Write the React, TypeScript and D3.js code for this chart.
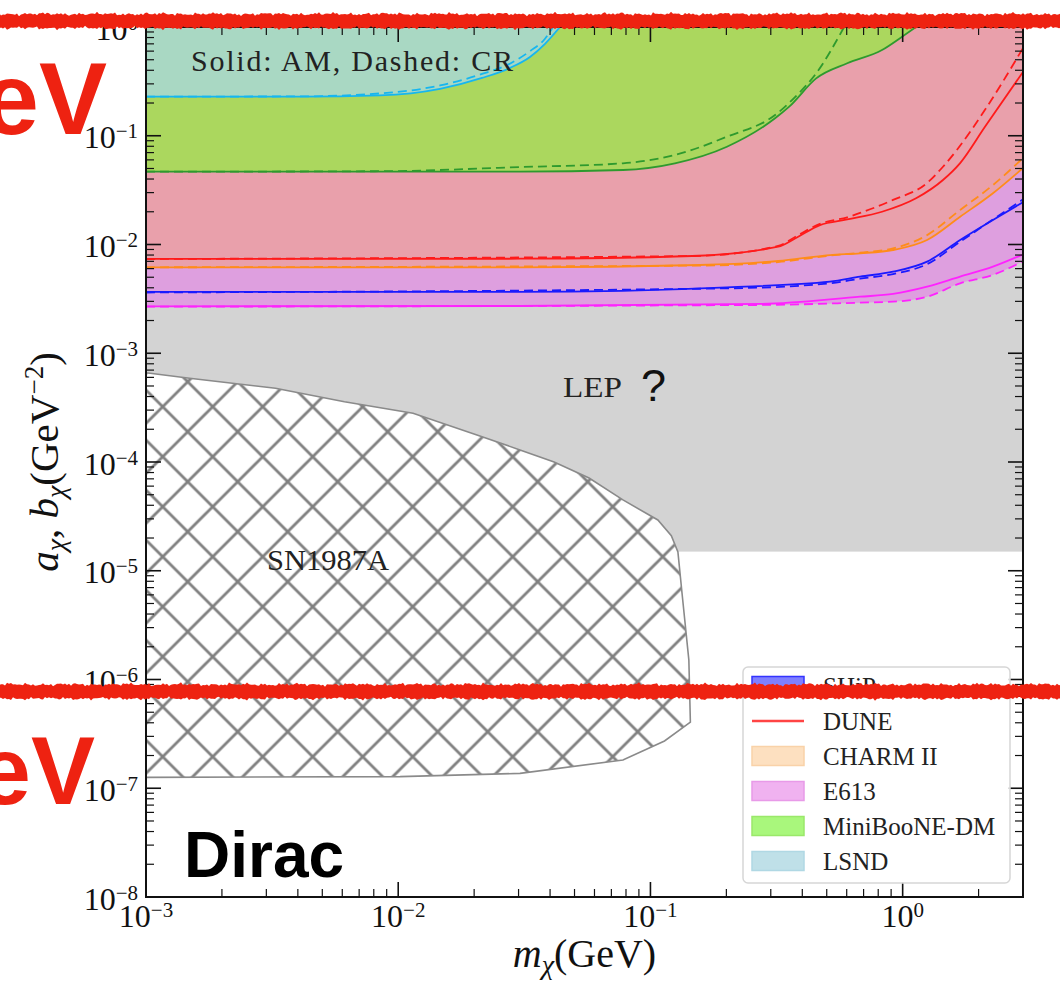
import React from 'react';
import * as d3 from 'd3';

type P = [number, number];

const xDomain: [number, number] = [1e-3, 3];
const yDomain: [number, number] = [1e-8, 1];
const xTickExps = [-3, -2, -1, 0];
const yTickExps = [0, -1, -2, -3, -4, -5, -6, -7, -8];

const lepBound = 1.5e-5;

const snBoundary: P[] = [
  [1e-3, 6.62e-4], [1.489e-3, 5.88e-4], [3.26e-3, 4.76e-4], [6.12e-3, 3.58e-4],
  [0.01145, 2.81e-4], [0.0215, 1.71e-4], [0.0304, 1.29e-4], [0.0415, 1.0e-4],
  [0.0571, 7.13e-5], [0.0778, 4.48e-5], [0.107, 2.93e-5], [0.121, 2.1e-5],
  [0.1285, 1.49e-5], [0.1334, 6.24e-6], [0.142, 1.51e-6], [0.144, 4.06e-7],
  [0.1137, 2.72e-7], [0.0778, 1.82e-7], [0.0304, 1.37e-7], [0.01017, 1.28e-7], [1e-3, 1.26e-7],
];

const e613Solid: P[] = [
  [1e-3, 2.7e-3], [0.0304, 2.72e-3], [0.275, 2.84e-3], [0.678, 3.31e-3], [0.916, 3.51e-3],
  [1.25, 4.09e-3], [1.69, 5.06e-3], [2.28, 6.25e-3], [3, 8.1e-3],
];
const e613Dashed: P[] = [
  [1e-3, 2.68e-3], [0.275, 2.78e-3], [0.678, 2.92e-3], [0.916, 2.98e-3], [1.25, 3.31e-3],
  [1.69, 4.4e-3], [2.28, 5.25e-3], [3, 7.0e-3],
];
const shipSolid: P[] = [
  [1e-3, 3.66e-3], [0.0304, 3.66e-3], [0.201, 4.04e-3], [0.515, 4.55e-3], [0.678, 5.06e-3],
  [0.916, 5.62e-3], [1.25, 6.95e-3], [1.69, 0.011], [2.28, 0.0168], [3, 0.0245],
];
const shipDashed: P[] = [
  [1e-3, 3.62e-3], [0.201, 3.95e-3], [0.515, 4.4e-3], [0.678, 4.85e-3], [0.916, 5.35e-3],
  [1.25, 6.6e-3], [1.69, 0.0106], [2.28, 0.017], [3, 0.026],
];
const charmSolid: P[] = [
  [1e-3, 6.17e-3], [0.0304, 6.17e-3], [0.157, 6.48e-3], [0.321, 7.05e-3], [0.515, 8.0e-3],
  [0.678, 8.3e-3], [0.916, 8.9e-3], [1.25, 0.011], [1.69, 0.018], [2.28, 0.0296], [3, 0.0505],
];
const charmDashed: P[] = [
  [1e-3, 6.17e-3], [0.157, 6.4e-3], [0.321, 6.9e-3], [0.515, 7.9e-3], [0.678, 8.4e-3],
  [0.916, 9.2e-3], [1.25, 0.0122], [1.69, 0.0208], [2.28, 0.0352], [3, 0.0624],
];
const duneSolid: P[] = [
  [1e-3, 7.36e-3], [0.0304, 7.4e-3], [0.146, 7.84e-3], [0.321, 9.55e-3], [0.376, 0.0114],
  [0.47, 0.0151], [0.603, 0.017], [0.828, 0.02], [1.13, 0.0266], [1.445, 0.0392],
  [1.69, 0.0561], [2.12, 0.121], [3, 0.386],
];
const duneDashed: P[] = [
  [1e-3, 7.36e-3], [0.146, 7.84e-3], [0.321, 9.7e-3], [0.376, 0.0118], [0.47, 0.0155],
  [0.603, 0.0178], [0.678, 0.0195], [0.916, 0.0257], [1.25, 0.0368], [1.445, 0.0519],
  [1.64, 0.074], [2.12, 0.173], [3, 0.641],
];
const mbSolid: P[] = [
  [1e-3, 0.0467], [0.0304, 0.0467], [0.0778, 0.0484], [0.125, 0.0558], [0.201, 0.0793],
  [0.312, 0.1446], [0.355, 0.185], [0.454, 0.337], [0.603, 0.464], [0.828, 0.614],
  [0.995, 0.814], [1.13, 1.0],
];
const mbDashed: P[] = [
  [1e-3, 0.0467], [8.5e-3, 0.0472], [0.0304, 0.0515], [0.0778, 0.0558], [0.125, 0.0665],
  [0.201, 0.098], [0.312, 0.155], [0.376, 0.229], [0.454, 0.375], [0.586, 1.0],
];
const lsndSolid: P[] = [
  [1e-3, 0.229], [4.08e-3, 0.229], [8.47e-3, 0.235], [0.01465, 0.27], [0.0215, 0.34],
  [0.0277, 0.42], [0.0333, 0.53], [0.0382, 0.7], [0.0438, 1.0],
];
const lsndDashed: P[] = [
  [1e-3, 0.229], [4.08e-3, 0.23], [8.47e-3, 0.245], [0.01465, 0.29], [0.0215, 0.37],
  [0.0277, 0.46], [0.0333, 0.6], [0.0382, 0.78], [0.0411, 1.0],
];

const legendItems = [
  { label: 'SHiP', kind: 'patch', fill: '#7f7fff', stroke: '#3333ff' },
  { label: 'DUNE', kind: 'line', fill: 'none', stroke: '#ff4444' },
  { label: 'CHARM II', kind: 'patch', fill: '#fde0c0', stroke: '#f9d2a8' },
  { label: 'E613', kind: 'patch', fill: '#f0b2f0', stroke: '#e89ae8' },
  { label: 'MiniBooNE-DM', kind: 'patch', fill: '#a9f77c', stroke: '#9ae86a' },
  { label: 'LSND', kind: 'patch', fill: '#bfe0e8', stroke: '#b0d8e4' },
];

const SERIF = '"Liberation Serif", "DejaVu Serif", serif';
const SANS = '"Liberation Sans", Arial, sans-serif';

function jag(xv: number, seed: number) {
  return 0.7 * Math.sin(xv * 1.73 + seed) + 0.5 * Math.sin(xv * 3.91 + 2 + seed) +
    0.6 * Math.sin(xv * 0.37 + 1 + seed * 1.3) + 0.35 * Math.sin(xv * 7.3 + seed * 2) +
    0.4 * Math.sin(xv * 0.11 + seed * 0.7);
}

function bandPath(y0: number, y1: number, seed: number) {
  const pts: string[] = [];
  for (let xv = -5; xv <= 1065; xv += 2) pts.push(`${xv},${(y0 + jag(xv, seed)).toFixed(2)}`);
  for (let xv = 1065; xv >= -5; xv -= 2) pts.push(`${xv},${(y1 + jag(xv, seed + 3)).toFixed(2)}`);
  return 'M' + pts.join('L') + 'Z';
}

const sup = (e: number) => (e < 0 ? `\u2212${-e}` : `${e}`);

export default function App() {
  const W = 1060, H = 984;
  const x = d3.scaleLog().domain(xDomain).range([146, 1023]);
  const y = d3.scaleLog().domain(yDomain).range([897, 27]);
  const x0 = x(xDomain[0]), x1 = x(xDomain[1]);
  const yB = y(yDomain[0]), yT = y(yDomain[1]);

  const line = d3.line<P>().x(d => x(d[0])).y(d => y(d[1])).curve(d3.curveMonotoneX);
  const fillAbove = (pts: P[]) => {
    const f = pts[0], l = pts[pts.length - 1];
    return `${line(pts)}L${x(l[0])},${yT}L${x(f[0])},${yT}Z`;
  };
  const snPath = d3.line<P>().x(d => x(d[0])).y(d => y(d[1]))(snBoundary) + 'Z';

  const xMinor: number[] = [];
  for (let k = -3; k <= 0; k++) for (let m = 2; m <= 9; m++) { const v = m * 10 ** k; if (v < xDomain[1]) xMinor.push(v); }
  const yMinor: number[] = [];
  for (let k = -8; k <= -1; k++) for (let m = 2; m <= 9; m++) yMinor.push(m * 10 ** k);

  const curves = [
    { s: e613Solid, d: e613Dashed, c: '#ff22ff' },
    { s: shipSolid, d: shipDashed, c: '#1a1aff' },
    { s: charmSolid, d: charmDashed, c: '#ff8c1a' },
    { s: duneSolid, d: duneDashed, c: '#ff1a1a' },
    { s: mbSolid, d: mbDashed, c: '#2e9a2e' },
    { s: lsndSolid, d: lsndDashed, c: '#16b6f0' },
  ];

  const majT = 15, minT = 8;
  const legX = 743, legY = 667, legW = 267, legH = 216;
  const legRow0 = 686, legStep = 35;

  return (
    <svg width={W} height={H} style={{ position: 'absolute', left: 0, top: 0, background: '#fff' }}>
      <defs>
        <clipPath id="plotClip">
          <rect x={x0} y={yT} width={x1 - x0} height={yB - yT} />
        </clipPath>
        <pattern id="hatch" patternUnits="userSpaceOnUse" width={50} height={50} x={37.7} y={31.7}>
          <path d="M-55,-5L5,55M-5,-5L55,55M45,-5L105,55M55,-5L-5,55M5,-5L-55,55M105,-5L45,55"
            stroke="#808080" strokeWidth={2.8} fill="none" />
        </pattern>
      </defs>
      <rect x={0} y={0} width={W} height={H} fill="#fff" />

      <g clipPath="url(#plotClip)">
        <rect x={x0} y={yT} width={x1 - x0} height={y(lepBound) - yT} fill="#d3d3d3" />
        <path d={snPath} fill="#fff" />
        <path d={snPath} fill="url(#hatch)" stroke="#8a8a8a" strokeWidth={1.6} />
        <path d={fillAbove(e613Dashed)} fill="#de9fdf" />
        <path d={fillAbove(charmSolid)} fill="#e9a0ab" />
        <path d={fillAbove(mbSolid)} fill="#abd75e" />
        <path d={fillAbove(lsndSolid)} fill="#a9d8c3" />
        {curves.map((c, i) => (
          <g key={i}>
            <path d={line(c.d) || ''} fill="none" stroke={c.c} strokeWidth={1.8} strokeDasharray="9,5" />
            <path d={line(c.s) || ''} fill="none" stroke={c.c} strokeWidth={1.8} />
          </g>
        ))}
      </g>

      <text x={191} y={71} fontFamily={SERIF} fontSize={30} textLength={322} lengthAdjust="spacing" fill="#222">Solid: AM, Dashed: CR</text>
      <text x={563} y={397} fontFamily={SERIF} fontSize={29} textLength={59} lengthAdjust="spacingAndGlyphs" fill="#222">LEP</text>
      <text x={641} y={401} fontFamily={SANS} fontSize={45} fill="#111">?</text>
      <text x={267} y={570} fontFamily={SERIF} fontSize={29} textLength={122} lengthAdjust="spacingAndGlyphs" fill="#222">SN1987A</text>

      {/* frame */}
      <rect x={x0} y={yT} width={x1 - x0} height={yB - yT} fill="none" stroke="#111" strokeWidth={2} />
      {xTickExps.map(e => (
        <g key={'xm' + e}>
          <line x1={x(10 ** e)} x2={x(10 ** e)} y1={yB} y2={yB - majT} stroke="#111" strokeWidth={1.6} />
          <line x1={x(10 ** e)} x2={x(10 ** e)} y1={yT} y2={yT + majT} stroke="#111" strokeWidth={1.6} />
        </g>
      ))}
      {xMinor.map((v, i) => (
        <g key={'xn' + i}>
          <line x1={x(v)} x2={x(v)} y1={yB} y2={yB - minT} stroke="#111" strokeWidth={1.2} />
          <line x1={x(v)} x2={x(v)} y1={yT} y2={yT + minT} stroke="#111" strokeWidth={1.2} />
        </g>
      ))}
      {yTickExps.map(e => (
        <g key={'ym' + e}>
          <line x1={x0} x2={x0 + majT} y1={y(10 ** e)} y2={y(10 ** e)} stroke="#111" strokeWidth={1.6} />
          <line x1={x1} x2={x1 - majT} y1={y(10 ** e)} y2={y(10 ** e)} stroke="#111" strokeWidth={1.6} />
        </g>
      ))}
      {yMinor.map((v, i) => (
        <g key={'yn' + i}>
          <line x1={x0} x2={x0 + minT} y1={y(v)} y2={y(v)} stroke="#111" strokeWidth={1.2} />
          <line x1={x1} x2={x1 - minT} y1={y(v)} y2={y(v)} stroke="#111" strokeWidth={1.2} />
        </g>
      ))}

      {yTickExps.map(e => (
        <text key={'yl' + e} x={138} y={y(10 ** e) + 12.5} textAnchor="end" fontFamily={SERIF} fontSize={32} fill="#111">
          10<tspan dy={-10} fontSize={21}>{sup(e)}</tspan>
        </text>
      ))}
      {xTickExps.map(e => (
        <text key={'xl' + e} x={x(10 ** e)} y={927} textAnchor="middle" fontFamily={SERIF} fontSize={32} fill="#111">
          10<tspan dy={-10} fontSize={21}>{sup(e)}</tspan>
        </text>
      ))}

      <text x={(x0 + x1) / 2} y={967} textAnchor="middle" fontFamily={SERIF} fontSize={40} fill="#111">
        <tspan fontStyle="italic">m</tspan>
        <tspan fontStyle="italic" fontSize={28} dy={7}>χ</tspan>
        <tspan dy={-7}>(GeV)</tspan>
      </text>
      <text x={58} y={(yT + yB) / 2} transform={`rotate(-90, 58, ${(yT + yB) / 2})`} textAnchor="middle" fontFamily={SERIF} fontSize={41} fill="#111">
        <tspan fontStyle="italic">a</tspan>
        <tspan fontStyle="italic" fontSize={28} dy={7}>χ</tspan>
        <tspan dy={-7}>, </tspan>
        <tspan fontStyle="italic">b</tspan>
        <tspan fontStyle="italic" fontSize={28} dy={7}>χ</tspan>
        <tspan dy={-7}>(GeV</tspan>
        <tspan fontSize={27} dy={-15}>−2</tspan>
        <tspan dy={15}>)</tspan>
      </text>

      {/* legend */}
      <rect x={legX} y={legY} width={legW} height={legH} rx={5} fill="#fff" fillOpacity={0.85} stroke="#d6d6d6" strokeWidth={1.5} />
      {legendItems.map((it, i) => {
        const cy = legRow0 + i * legStep;
        return (
          <g key={it.label}>
            {it.kind === 'line'
              ? <line x1={752} x2={804} y1={cy} y2={cy} stroke={it.stroke} strokeWidth={2.5} />
              : <rect x={752} y={cy - 9.5} width={52} height={19} fill={it.fill} stroke={it.stroke} strokeWidth={1.5} />}
            <text x={823} y={cy + 9} fontFamily={SERIF} fontSize={25} fill="#222">{it.label}</text>
          </g>
        );
      })}

      <text x={184} y={877} fontFamily={SANS} fontWeight="bold" fontSize={64} fill="#000">Dirac</text>

      <path d={bandPath(14, 28, 0)} fill="#ee2211" />
      <path d={bandPath(684.5, 698.5, 5)} fill="#ee2211" />
      <text x={107} y={134} textAnchor="end" fontFamily={SANS} fontWeight="bold" fontSize={102} fill="#ee2211">eV</text>
      <text x={95} y={804} textAnchor="end" fontFamily={SANS} fontWeight="bold" fontSize={96} fill="#ee2211">eV</text>
    </svg>
  );
}
